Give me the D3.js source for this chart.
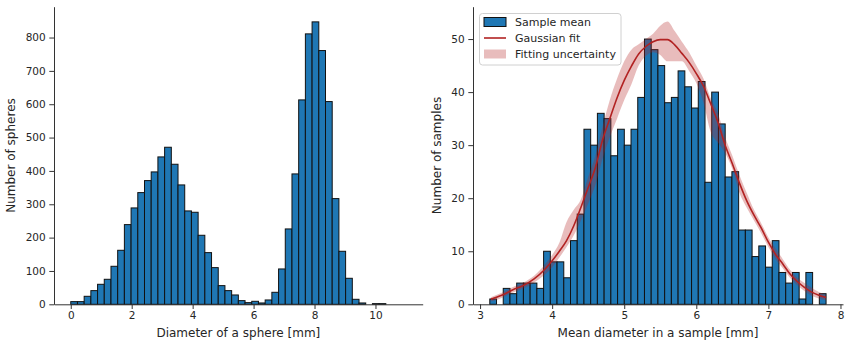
<!DOCTYPE html>
<html>
<head>
<meta charset="utf-8">
<script src="https://cdn.jsdelivr.net/npm/d3@7"></script>
<style>
  body { margin: 0; background: #fff; }
  svg { display: block; }
  text { font-family: "DejaVu Sans", sans-serif; fill: #262626; }
</style>
</head>
<body>
<svg id="chart" width="850" height="348"></svg>
<script>
// ---- Left panel: diameters of all spheres (50 equal bins) ----
const sphereBinRange = [0, 11];
const sphereCounts = [
  8, 8, 24, 41, 60, 75, 114, 162, 239, 289,
  335, 371, 397, 442, 471, 420, 358, 280, 276, 207,
  155, 110, 56, 41, 28, 11, 5, 9, 4, 13,
  36, 106, 226, 391, 613, 811, 847, 761, 608, 317,
  159, 78, 15, 4, 0, 2, 2, 0, 0, 0
];
const sphereXTicks = [0, 2, 4, 6, 8, 10];
const sphereYTicks = [0, 100, 200, 300, 400, 500, 600, 700, 800];

// ---- Right panel: mean diameter per sample (50 equal bins) ----
const sampleBinRange = [3.135, 7.80];
const sampleCounts = [
  1, 0, 3, 2, 4, 4, 4, 3, 10, 8,
  8, 5, 12, 17, 33, 30, 36, 35, 28, 33,
  30, 33, 39, 50, 48, 45, 38, 39, 44, 41,
  37, 42, 23, 40, 34, 24, 25, 14, 14, 9,
  11, 7, 12, 6, 4, 6, 1, 6, 0, 2
];
const sampleXTicks = [3, 4, 5, 6, 7, 8];
const sampleYTicks = [0, 10, 20, 30, 40, 50];

// Gaussian fit curve and its uncertainty band
const fitX = [3.15, 3.3, 3.45, 3.6, 3.75, 3.9, 4.0, 4.1, 4.2, 4.3, 4.4, 4.5, 4.6, 4.7, 4.8,
  4.9, 5.0, 5.1, 5.2, 5.3, 5.4, 5.5, 5.6, 5.7, 5.8, 5.9, 6.0, 6.1, 6.2, 6.3,
  6.4, 6.5, 6.6, 6.7, 6.8, 6.9, 7.0, 7.1, 7.2, 7.3, 7.4, 7.5, 7.6, 7.7, 7.8];
const fitY = [0.95, 1.7, 2.7, 3.55, 4.8, 6.6, 8.2, 10.0, 12.0, 14.8, 18.3, 22.0, 25.8, 31.0, 35.0,
  38.9, 42.2, 44.9, 47.2, 48.6, 49.5, 49.9, 49.9, 48.9, 47.3, 45.6, 43.5, 41.1, 37.8, 34.3,
  30.0, 26.5, 22.8, 19.5, 16.8, 14.4, 11.7, 9.4, 7.6, 5.7, 4.3, 3.2, 2.3, 1.7, 1.3];
const fitLow = [0.55, 1.2, 2.2, 3.0, 4.1, 5.6, 7.0, 8.8, 10.8, 13.0, 15.8, 19.0, 22.5, 27.5, 31.5,
  35.0, 38.5, 41.5, 45.0, 46.8, 47.5, 47.0, 45.8, 45.8, 45.8, 44.0, 41.7, 38.0, 32.5, 30.5,
  28.5, 25.5, 21.0, 18.2, 15.8, 13.4, 10.8, 8.5, 6.8, 5.0, 3.6, 2.5, 1.6, 1.1, 0.8];
const fitHigh = [1.35, 2.2, 3.2, 4.1, 5.4, 7.5, 9.3, 11.6, 15.5, 17.8, 19.8, 24.0, 28.0, 33.5, 38.5,
  42.5, 45.8, 48.0, 49.0, 50.0, 51.0, 52.5, 53.3, 51.5, 49.5, 47.5, 45.0, 42.5, 38.8, 36.0,
  31.5, 28.0, 24.3, 21.0, 17.8, 15.3, 12.6, 10.5, 8.5, 6.5, 5.0, 4.0, 3.1, 2.3, 1.8];

const legendLabels = ["Sample mean", "Gaussian fit", "Fitting uncertainty"];

const BAR = "#1f77b4";
const FIT = "#b22222";
const AXIS = "#333";

const svg = d3.select("#chart");

function bins(range, counts) {
  const w = (range[1] - range[0]) / counts.length;
  return counts.map((c, i) => ({ x0: range[0] + i * w, x1: range[0] + (i + 1) * w, n: c }));
}

function drawAxes(g, x, y, xTicks, yTicks, xLabel, yLabel, yLabelX) {
  const ax = g.append("g")
    .attr("transform", `translate(0,${y.range()[0]})`)
    .call(d3.axisBottom(x).tickValues(xTicks).tickFormat(d3.format("d"))
      .tickSize(4.7).tickSizeOuter(0).tickPadding(3));
  const ay = g.append("g")
    .attr("transform", `translate(${x.range()[0]},0)`)
    .call(d3.axisLeft(y).tickValues(yTicks).tickFormat(d3.format("d"))
      .tickSize(4.7).tickSizeOuter(0).tickPadding(3.6));
  [ax, ay].forEach(a => {
    a.select(".domain").attr("stroke", AXIS).attr("stroke-width", 1);
    a.selectAll(".tick line").attr("stroke", AXIS).attr("stroke-width", 1);
    a.selectAll(".tick text").attr("font-size", 10.5).attr("fill", "#262626")
      .attr("font-family", "DejaVu Sans, sans-serif");
  });
  const cx = (x.range()[0] + x.range()[1]) / 2;
  g.append("text").attr("x", cx).attr("y", 337).attr("text-anchor", "middle")
    .attr("font-size", 12).text(xLabel);
  const cy = (y.range()[0] + y.range()[1]) / 2;
  g.append("text").attr("transform", `translate(${yLabelX},${cy}) rotate(-90)`)
    .attr("text-anchor", "middle").attr("font-size", 12).text(yLabel);
}

function drawBars(g, x, y, data) {
  g.append("g").selectAll("rect").data(data).join("rect")
    .attr("x", d => x(d.x0))
    .attr("width", d => x(d.x1) - x(d.x0))
    .attr("y", d => y(d.n))
    .attr("height", d => y(0) - y(d.n))
    .attr("fill", BAR)
    .attr("stroke", "#111")
    .attr("stroke-width", 1);
}

// ---- Left panel ----
{
  const x = d3.scaleLinear().domain([-0.55, 11.55]).range([54, 422.7]);
  const y = d3.scaleLinear().domain([0, 892.5]).range([304.3, 6.7]);
  const g = svg.append("g");
  drawBars(g, x, y, bins(sphereBinRange, sphereCounts));
  drawAxes(g, x, y, sphereXTicks, sphereYTicks, "Diameter of a sphere [mm]", "Number of spheres", 15);
}

// ---- Right panel ----
{
  const x = d3.scaleLinear().domain([2.902, 8.035]).range([473, 843]);
  const y = d3.scaleLinear().domain([0, 56.1]).range([304.3, 6.7]);
  const g = svg.append("g");
  drawBars(g, x, y, bins(sampleBinRange, sampleCounts));

  const pts = fitX.map((v, i) => ({ x: v, y: fitY[i], lo: fitLow[i], hi: fitHigh[i] }));
  g.append("path").datum(pts)
    .attr("d", d3.area().x(d => x(d.x)).y0(d => y(d.lo)).y1(d => y(d.hi)).curve(d3.curveMonotoneX))
    .attr("fill", FIT).attr("fill-opacity", 0.3);
  g.append("path").datum(pts)
    .attr("d", d3.line().x(d => x(d.x)).y(d => y(d.y)).curve(d3.curveMonotoneX))
    .attr("fill", "none").attr("stroke", FIT).attr("stroke-width", 1.6);

  drawAxes(g, x, y, sampleXTicks, sampleYTicks, "Mean diameter in a sample [mm]", "Number of samples", 441);

  // Legend
  const lg = g.append("g");
  lg.append("rect").attr("x", 479.5).attr("y", 13.5).attr("width", 141.5).attr("height", 51.5)
    .attr("rx", 3).attr("fill", "#fff").attr("fill-opacity", 0.8)
    .attr("stroke", "#d0d0d0").attr("stroke-width", 1);
  const rows = [22, 38, 54];
  lg.append("rect").attr("x", 484).attr("y", rows[0] - 4.5).attr("width", 22).attr("height", 9)
    .attr("fill", BAR).attr("stroke", "#111").attr("stroke-width", 1);
  lg.append("line").attr("x1", 484).attr("x2", 506).attr("y1", rows[1]).attr("y2", rows[1])
    .attr("stroke", FIT).attr("stroke-width", 1.6);
  lg.append("rect").attr("x", 484).attr("y", rows[2] - 4.5).attr("width", 22).attr("height", 9)
    .attr("fill", FIT).attr("fill-opacity", 0.3);
  legendLabels.forEach((t, i) => {
    lg.append("text").attr("x", 515).attr("y", rows[i] + 4).attr("font-size", 11).text(t);
  });
}
</script>
</body>
</html>
